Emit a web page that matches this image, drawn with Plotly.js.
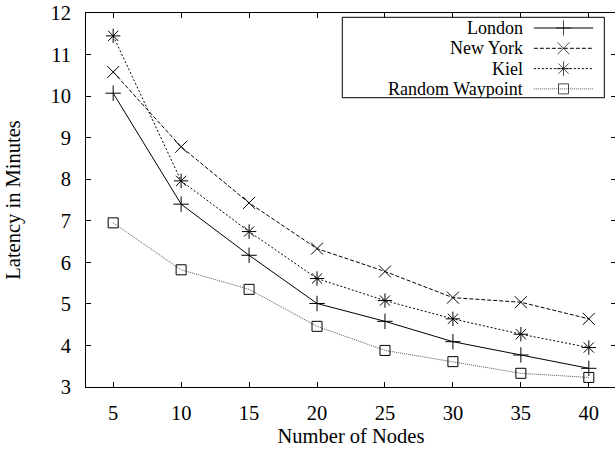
<!DOCTYPE html>
<html>
<head>
<meta charset="utf-8">
<script src="https://cdn.plot.ly/plotly-3.0.1.min.js"></script>
<style>
html,body{margin:0;padding:0;overflow:hidden;background:#fff;}
#chart{width:617px;height:449px;}
</style>
</head>
<body>
<div id="chart"></div>
<script>
// ---- data ----
var nodes = [5, 10, 15, 20, 25, 30, 35, 40];
var london = [10.07, 7.40, 6.17, 5.01, 4.58, 4.09, 3.77, 3.45];
var newYork = [10.58, 8.78, 7.43, 6.33, 5.78, 5.15, 5.04, 4.64];
var kiel = [11.45, 7.96, 6.74, 5.61, 5.08, 4.64, 4.27, 3.95];
var randomWaypoint = [6.95, 5.82, 5.35, 4.46, 3.88, 3.61, 3.33, 3.23];
var seriesNames = ["London", "New York", "Kiel", "Random Waypoint"];
var xTicks = [5, 10, 15, 20, 25, 30, 35, 40];
var yTicks = [3, 4, 5, 6, 7, 8, 9, 10, 11, 12];

// ---- styles ----
var FONT = "Liberation Serif, Times New Roman, serif";
var FS = 20.5;
var LEG_FS = 18;
var styles = [
  {dash: "solid", color: "#000", symbol: "cross-thin-open", size: 11},
  {dash: "4px,2px", color: "#000", symbol: "x-thin-open", size: 12},
  {dash: "2px,2px", color: "#000", symbol: "asterisk-open", size: 12},
  {dash: "1px,1px", color: "#555", symbol: "square-open", size: 10}
];
var seriesValues = [london, newYork, kiel, randomWaypoint];

var traces = [];
seriesValues.forEach(function (vals, i) {
  var s = styles[i];
  traces.push({
    x: nodes, y: vals, type: "scatter", mode: "lines+markers",
    name: seriesNames[i], showlegend: false, hoverinfo: "skip",
    line: {color: s.color, width: 1, dash: s.dash},
    marker: {symbol: s.symbol, size: s.size, color: "#000", line: {color: "#000", width: 1}}
  });
});

// ---- custom gnuplot-style legend (text left, sample right) ----
var legX0 = 0.845, legX1 = 0.957, legXm = (legX0 + legX1) / 2;
var legRows = [0.9599, 0.9056, 0.8513, 0.7971];
var annotations = [];
seriesNames.forEach(function (name, i) {
  var s = styles[i];
  traces.push({
    x: [legX0, legXm, legX1], y: [legRows[i], legRows[i], legRows[i]],
    xaxis: "x2", yaxis: "y2", type: "scatter", mode: "lines+markers",
    showlegend: false, hoverinfo: "skip",
    line: {color: s.color, width: 1, dash: s.dash},
    marker: {symbol: s.symbol, size: [0, s.size, 0], color: "#000", line: {color: "#000", width: 1}}
  });
  annotations.push({
    xref: "paper", yref: "paper", x: 0.826, y: legRows[i],
    xanchor: "right", yanchor: "middle", showarrow: false, height: 18, borderpad: 0,
    text: name, font: {family: FONT, size: LEG_FS, color: "#000"}
  });
});

var layout = {
  width: 617, height: 449,
  margin: {l: 86, r: 1, t: 13, b: 62, pad: 0},
  paper_bgcolor: "#fff", plot_bgcolor: "#fff",
  font: {family: FONT, size: FS, color: "#000"},
  showlegend: false,
  xaxis: {
    range: [3, 42], tickvals: xTicks, ticks: "inside", ticklen: 5, tickwidth: 1,
    tickcolor: "#000", showline: true, linecolor: "#000", linewidth: 1, mirror: "ticks",
    showgrid: false, zeroline: false, ticklabelstandoff: 7,
    tickfont: {family: FONT, size: FS, color: "#000"},
    title: {text: "Number of Nodes", font: {family: FONT, size: FS, color: "#000"}, standoff: 6}
  },
  yaxis: {
    range: [3, 12], tickvals: yTicks, ticks: "inside", ticklen: 5, tickwidth: 1,
    tickcolor: "#000", showline: true, linecolor: "#000", linewidth: 1, mirror: "ticks",
    showgrid: false, zeroline: false, ticklabelstandoff: 10,
    tickfont: {family: FONT, size: FS, color: "#000"},
    title: {text: "Latency in Minutes", font: {family: FONT, size: FS, color: "#000"}, standoff: 24}
  },
  xaxis2: {domain: [0, 1], range: [0, 1], overlaying: "x", anchor: "y2", visible: false, fixedrange: true},
  yaxis2: {domain: [0, 1], range: [0, 1], overlaying: "y", anchor: "x2", visible: false, fixedrange: true},
  shapes: [{
    type: "rect", xref: "paper", yref: "paper",
    x0: 0.4836, x1: 0.978, y0: 0.7735, y1: 0.9885,
    line: {color: "#000", width: 1}, fillcolor: "rgba(0,0,0,0)", layer: "above"
  }],
  annotations: annotations
};

Plotly.newPlot("chart", traces, layout, {staticPlot: true, displayModeBar: false});
</script>
</body>
</html>
